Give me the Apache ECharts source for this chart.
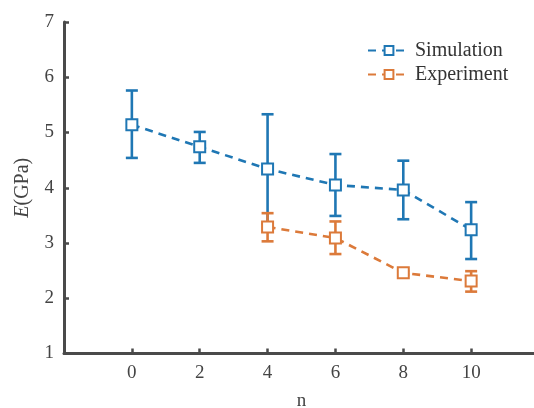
<!DOCTYPE html>
<html>
<head>
<meta charset="utf-8">
<script src="https://cdn.jsdelivr.net/npm/echarts@6/dist/echarts.min.js"></script>
<style>html,body{margin:0;padding:0;background:#fff}#c{width:534px;height:408px}</style>
</head>
<body>
<div id="c"></div>
<script>
var simX = [0, 2, 4, 6, 8, 10];
var simY = [5.14, 4.74, 4.34, 4.05, 3.96, 3.24];
var simLo = [4.54, 4.45, 3.35, 3.49, 3.43, 2.71];
var simHi = [5.76, 5.01, 5.33, 4.61, 4.49, 3.74];
var expX = [4, 6, 8, 10];
var expY = [3.29, 3.09, 2.46, 2.31];
var expLo = [3.03, 2.80, 2.43, 2.12];
var expHi = [3.54, 3.39, 2.49, 2.49];
var xTicks = [0, 2, 4, 6, 8, 10];
var yTicks = [1, 2, 3, 4, 5, 6, 7];

var BLUE = '#1f77b4', ORANGE = '#dc7a3a', AX = '#4a4a4a';
var FONT = 'Liberation Serif';

function pairs(xs, ys) { return xs.map(function (x, i) { return [x, ys[i]]; }); }
function errData(xs, lo, hi) { return xs.map(function (x, i) { return [x, lo[i], hi[i]]; }); }
function errRender(color) {
  return function (params, api) {
    var x = api.value(0);
    var lo = api.coord([x, api.value(1)]);
    var hi = api.coord([x, api.value(2)]);
    var w = 6;
    var st = { stroke: color, lineWidth: 2.6 };
    return { type: 'group', children: [
      { type: 'line', shape: { x1: lo[0], y1: lo[1], x2: hi[0], y2: hi[1] }, style: st },
      { type: 'line', shape: { x1: lo[0] - w, y1: lo[1], x2: lo[0] + w, y2: lo[1] }, style: st },
      { type: 'line', shape: { x1: hi[0] - w, y1: hi[1], x2: hi[0] + w, y2: hi[1] }, style: st }
    ]};
  };
}

var chart = echarts.init(document.getElementById('c'));
chart.setOption({
  animation: false,
  textStyle: { fontFamily: FONT },
  grid: { left: 64, top: 22, width: 475, height: 331.5, outerBoundsMode: 'none', containLabel: false },
  legend: {
    left: 362, top: 35, orient: 'vertical', itemWidth: 42, itemHeight: 11, itemGap: 3,
    textStyle: { fontFamily: FONT, fontSize: 20, color: '#333', lineHeight: 21 },
    data: ['Simulation', 'Experiment']
  },
  xAxis: {
    type: 'value', min: -2, max: 12, interval: 2,
    name: 'n', nameLocation: 'middle', nameGap: 38,
    nameTextStyle: { fontFamily: FONT, fontSize: 19, color: '#444' },
    axisLine: { onZero: false, lineStyle: { color: AX, width: 3 } },
    axisTick: { inside: true, length: 5, lineStyle: { color: AX, width: 2.5 },
      customValues: xTicks },
    axisLabel: { fontFamily: FONT, fontSize: 19, color: '#444', margin: 10,
      customValues: xTicks },
    splitLine: { show: false }
  },
  yAxis: {
    type: 'value', min: 1, max: 7, interval: 1,
    name: '{i|E}(GPa)', nameLocation: 'middle', nameGap: 31,
    nameTextStyle: { fontFamily: FONT, fontSize: 20, color: '#444',
      rich: { i: { fontFamily: FONT, fontStyle: 'italic', fontSize: 20, color: '#444' } } },
    axisLine: { show: true, onZero: false, lineStyle: { color: AX, width: 3 } },
    axisTick: { show: true, inside: true, length: 5, lineStyle: { color: AX, width: 2.5 } },
    axisLabel: { fontFamily: FONT, fontSize: 19, color: '#444', margin: 10,
      formatter: function (v) { return yTicks.indexOf(v) >= 0 ? String(v) : ''; } },
    splitLine: { show: false }
  },
  series: [
    { type: 'custom', name: 'simErr', renderItem: errRender(BLUE), data: errData(simX, simLo, simHi), z: 2, silent: true },
    { type: 'line', name: 'Simulation', data: pairs(simX, simY), color: BLUE, z: 3,
      symbol: 'emptyRect', symbolSize: 11,
      lineStyle: { color: BLUE, width: 2.6, type: [8, 6] },
      itemStyle: { color: BLUE, borderColor: BLUE, borderWidth: 2.6 } },
    { type: 'custom', name: 'expErr', renderItem: errRender(ORANGE), data: errData(expX, expLo, expHi), z: 4, silent: true },
    { type: 'line', name: 'Experiment', data: pairs(expX, expY), color: ORANGE, z: 5,
      symbol: 'emptyRect', symbolSize: 11,
      lineStyle: { color: ORANGE, width: 2.6, type: [8, 6] },
      itemStyle: { color: ORANGE, borderColor: ORANGE, borderWidth: 2.6 } }
  ]
});
</script>
</body>
</html>
